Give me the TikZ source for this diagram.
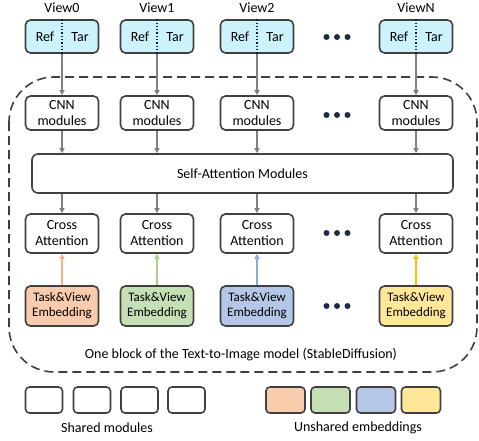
\documentclass[tikz,border=0pt]{standalone}
\usepackage{fontspec}
\setmainfont{Carlito}
\usetikzlibrary{arrows.meta,positioning}
\definecolor{boxLine}{RGB}{64,64,64}
\definecolor{viewFill}{RGB}{204,243,252}
\definecolor{dotNavy}{RGB}{0,32,96}
\definecolor{flowGray}{RGB}{128,128,128}
\definecolor{bulletDark}{RGB}{32,42,68}
\definecolor{embOrange}{RGB}{248,203,173}
\definecolor{embGreen}{RGB}{197,224,180}
\definecolor{embBlue}{RGB}{180,199,231}
\definecolor{embYellow}{RGB}{255,230,153}
\definecolor{arrOrange}{RGB}{244,177,131}
\definecolor{arrGreen}{RGB}{169,209,142}
\definecolor{arrBlue}{RGB}{143,170,220}
\definecolor{arrYellow}{RGB}{255,192,0}

\begin{document}
\begin{tikzpicture}[x=1pt, y=-1pt,
      modbox/.style={draw=boxLine, line width=1.6pt, rounded corners=5pt, fill=white,
                     minimum width=73pt, minimum height=34pt, inner sep=0pt, align=center,
                     font=\fontsize{14}{16}\selectfont},
      viewbox/.style={modbox, fill=viewFill, minimum height=33pt},
      embbox/.style={modbox, minimum height=40pt, font=\fontsize{13}{15}\selectfont},
      legbox/.style={draw=boxLine, line width=1.6pt, rounded corners=4pt,
                     minimum width=37pt, minimum height=26pt, inner sep=0pt},
      lbl/.style={font=\fontsize{14}{16}\selectfont, inner sep=0pt},
      flow/.style={-{Triangle[length=5pt,width=5pt]}, line width=1.2pt, color=flowGray},
      embflow/.style={-{Triangle[length=5pt,width=5pt]}, line width=1.4pt}
    ]
    \useasboundingbox (0,0) rectangle (479,440);

    % outer block of the model
    \draw[boxLine, line width=1.6pt, dash pattern=on 9pt off 5pt, rounded corners=45pt]
      (9,77) rectangle (477,372);
    \node[lbl] (blocktxt) at (241,355) {One block of the Text-to-Image model (StableDiffusion)};

    % shared attention over all views
    \node[modbox, minimum width=421pt, minimum height=39pt, rounded corners=6pt] (self) at (242.5,173.5)
      {Self-Attention Modules};

    % one column per view
    \foreach \i/\x/\nm/\ef/\ea in {0/62/View0/embOrange/arrOrange,
                                   1/157/View1/embGreen/arrGreen,
                                   2/257/View2/embBlue/arrBlue,
                                   N/416/ViewN/embYellow/arrYellow} {
      \node[lbl] (lab\i) at (\x,8) {\nm};
      \node[viewbox] (view\i) at (\x,36.5) {};
      \node[lbl] (ref\i) at (\x-17,37) {Ref};
      \node[lbl] (tar\i) at (\x+18,37) {Tar};
      \draw[dotNavy, line width=1.3pt, dotted] (view\i.north) -- (view\i.south);
      \node[modbox] (cnn\i)   at (\x,113)   {CNN\\modules};
      \node[modbox, minimum height=39pt] (cross\i) at (\x,233.5) {Cross\\Attention};
      \node[embbox, fill=\ef] (emb\i) at (\x,306) {Task\&View\\Embedding};

      \draw[flow] (view\i) -- (cnn\i);
      \draw[flow] (cnn\i) -- (self.north -| cnn\i);
      \draw[flow] (self.south -| cross\i) -- (cross\i);
      \draw[embflow, color=\ea] (emb\i) -- (cross\i);
    }

    % ellipsis between View2 and ViewN
    \foreach \y in {37,115,233,306}
      \foreach \dx in {-10.5,0,10.5}
        \fill[bulletDark] (337+\dx,\y) circle (3);

    % legend
    \foreach \j/\x in {1/44,2/92,3/139.5,4/186.5}
      \node[legbox, fill=white] (shared\j) at (\x,400) {};
    \foreach \j/\x/\c in {1/285.5/embOrange,2/330.5/embGreen,3/376/embBlue,4/421/embYellow}
      \node[legbox, fill=\c, minimum width=39pt] (unshared\j) at (\x,400) {};
    \node[lbl] (sharedtxt)   at (107,428) {Shared modules};
    \node[lbl] (unsharedtxt) at (358,428) {Unshared embeddings};
  \end{tikzpicture}
\end{document}
